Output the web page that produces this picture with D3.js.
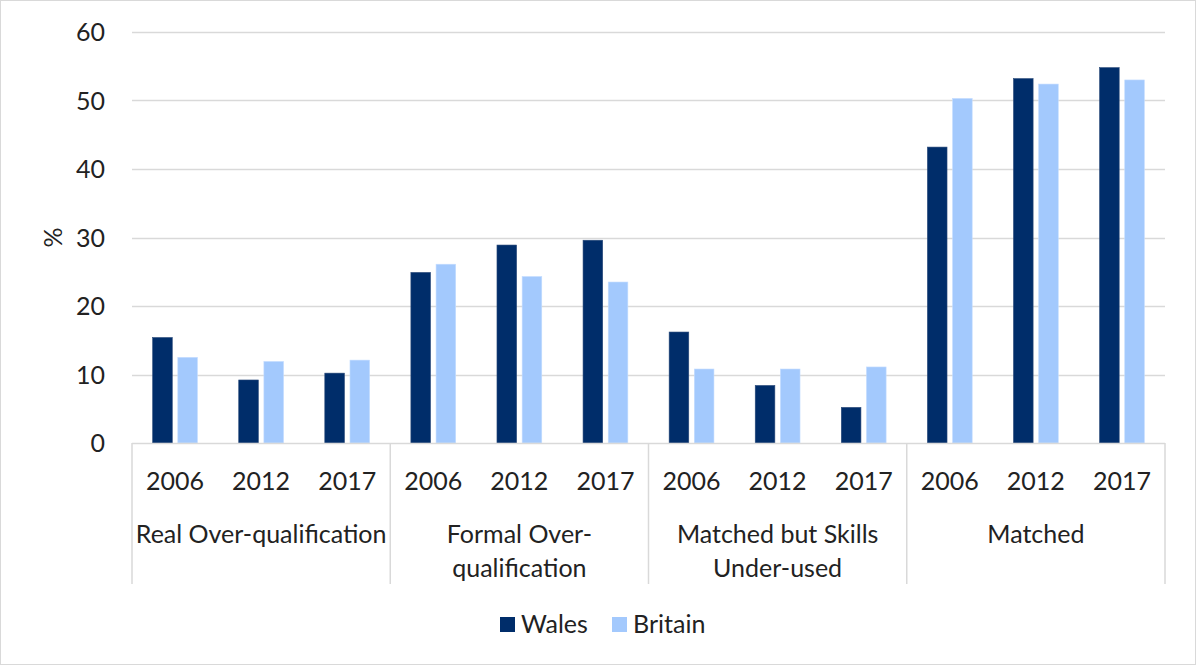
<!DOCTYPE html>
<html>
<head>
<meta charset="utf-8">
<script src="https://cdn.jsdelivr.net/npm/d3@7"></script>
<style>
  html, body { margin: 0; padding: 0; background: #fff; }
  svg { display: block; }
  text { font-family: Lato, "Open Sans", sans-serif; fill: #222; }
</style>
</head>
<body>
<svg id="chart" width="1196" height="665"></svg>
<script>
// Skills match categories (multi-line labels) and survey years
const groups = ["Real Over-qualification", "Formal Over-qualification", "Matched but Skills Under-used", "Matched"];
const groupLines = [["Real Over-qualification"], ["Formal Over-", "qualification"], ["Matched but Skills", "Under-used"], ["Matched"]];
const years = ["2006", "2012", "2017"];
const series = ["Wales", "Britain"];
const colors = ["#002D6A", "#A3C9FD"];

// Percent of workers, per group, in year order
const wales   = [[15.4, 9.2, 10.2], [24.9, 28.9, 29.6], [16.2, 8.4, 5.2], [43.2, 53.2, 54.8]];
const britain = [[12.5, 11.9, 12.1], [26.1, 24.3, 23.5], [10.8, 10.8, 11.1], [50.3, 52.4, 53.0]];
const yTicks = [0, 10, 20, 30, 40, 50, 60];

const svg = d3.select("#chart");
const plotLeft = 132, plotRight = 1165, plotTop = 32, plotBottom = 443;
const fontSize = 25;

// outer frame
svg.append("rect").attr("x", 0.5).attr("y", 0.5).attr("width", 1195).attr("height", 664)
  .attr("fill", "#fff").attr("stroke", "#d9d9d9");

const y = d3.scaleLinear().domain([0, 60]).range([plotBottom, plotTop]);
const x0 = d3.scaleBand().domain(groups).range([plotLeft, plotRight]);
const x1 = d3.scaleBand().domain(years).range([0, x0.bandwidth()]);
const x2 = d3.scaleBand().domain(series).range([0, x1.bandwidth()])
  .paddingInner(0.22).paddingOuter(0.82);

// gridlines
svg.append("g").selectAll("line").data(yTicks.filter(d => d > 0)).join("line")
  .attr("x1", plotLeft).attr("x2", plotRight)
  .attr("y1", d => Math.round(y(d)) + 0.5).attr("y2", d => Math.round(y(d)) + 0.5)
  .attr("stroke", "#d9d9d9").attr("stroke-width", 1.5);

// y axis labels
const yAxis = svg.append("g").attr("transform", `translate(${plotLeft},0)`)
  .call(d3.axisLeft(y).tickValues(yTicks).tickSize(0).tickPadding(27));
yAxis.select(".domain").remove();
yAxis.selectAll("text").attr("font-size", fontSize).attr("dy", "0.35em")
  .style("font-family", "Lato, 'Open Sans', sans-serif").attr("fill", "#222");

svg.append("text").attr("transform", `translate(62,${(plotTop + plotBottom) / 2}) rotate(-90)`)
  .attr("text-anchor", "middle").attr("font-size", fontSize).text("%");

// bars
const rows = [];
groups.forEach((g, gi) => years.forEach((yr, yi) => {
  rows.push({ g, yr, s: "Wales", v: wales[gi][yi], c: colors[0] });
  rows.push({ g, yr, s: "Britain", v: britain[gi][yi], c: colors[1] });
}));
svg.append("g").selectAll("rect").data(rows).join("rect")
  .attr("x", d => x0(d.g) + x1(d.yr) + x2(d.s))
  .attr("width", x2.bandwidth())
  .attr("y", d => y(d.v))
  .attr("height", d => y(0) - y(d.v))
  .attr("fill", d => d.c)
  .attr("stroke", d => d.s === "Wales" ? "#2a4a7a" : "#c4dcff")
  .attr("stroke-width", 0.6);

// category axis line and group dividers
svg.append("line").attr("x1", plotLeft).attr("x2", plotRight).attr("y1", plotBottom + 0.5).attr("y2", plotBottom + 0.5)
  .attr("stroke", "#d9d9d9").attr("stroke-width", 1.5);
const dividers = groups.map(g => x0(g)).concat([plotRight]);
svg.append("g").selectAll("line").data(dividers).join("line")
  .attr("x1", d => d).attr("x2", d => d).attr("y1", plotBottom).attr("y2", 584)
  .attr("stroke", "#d9d9d9").attr("stroke-width", 1.5);

// year labels
const yearLabels = [];
groups.forEach(g => years.forEach(yr => yearLabels.push({ g, yr })));
svg.append("g").selectAll("text").data(yearLabels).join("text")
  .attr("x", d => x0(d.g) + x1(d.yr) + x1.bandwidth() / 2)
  .attr("y", 481).attr("dy", "0.35em").attr("text-anchor", "middle")
  .attr("font-size", fontSize).text(d => d.yr);

// group labels
const gl = svg.append("g").selectAll("text").data(groups).join("text")
  .attr("text-anchor", "middle").attr("font-size", fontSize)
  .attr("x", d => x0(d) + x0.bandwidth() / 2).attr("y", 534);
gl.selectAll("tspan").data((d, i) => groupLines[i]).join("tspan")
  .attr("x", function () { return d3.select(this.parentNode).attr("x"); })
  .attr("y", (d, i) => 534 + i * 34).attr("dy", "0.35em").text(d => d);

// legend
const legendX = [500, 612];
const lg = svg.append("g").selectAll("g").data(series).join("g")
  .attr("transform", (d, i) => `translate(${legendX[i]},617)`);
lg.append("rect").attr("width", 15).attr("height", 15).attr("fill", (d, i) => colors[i]);
lg.append("text").attr("x", 21).attr("y", 7.5).attr("dy", "0.35em").attr("font-size", fontSize).text(d => d);
</script>
</body>
</html>
